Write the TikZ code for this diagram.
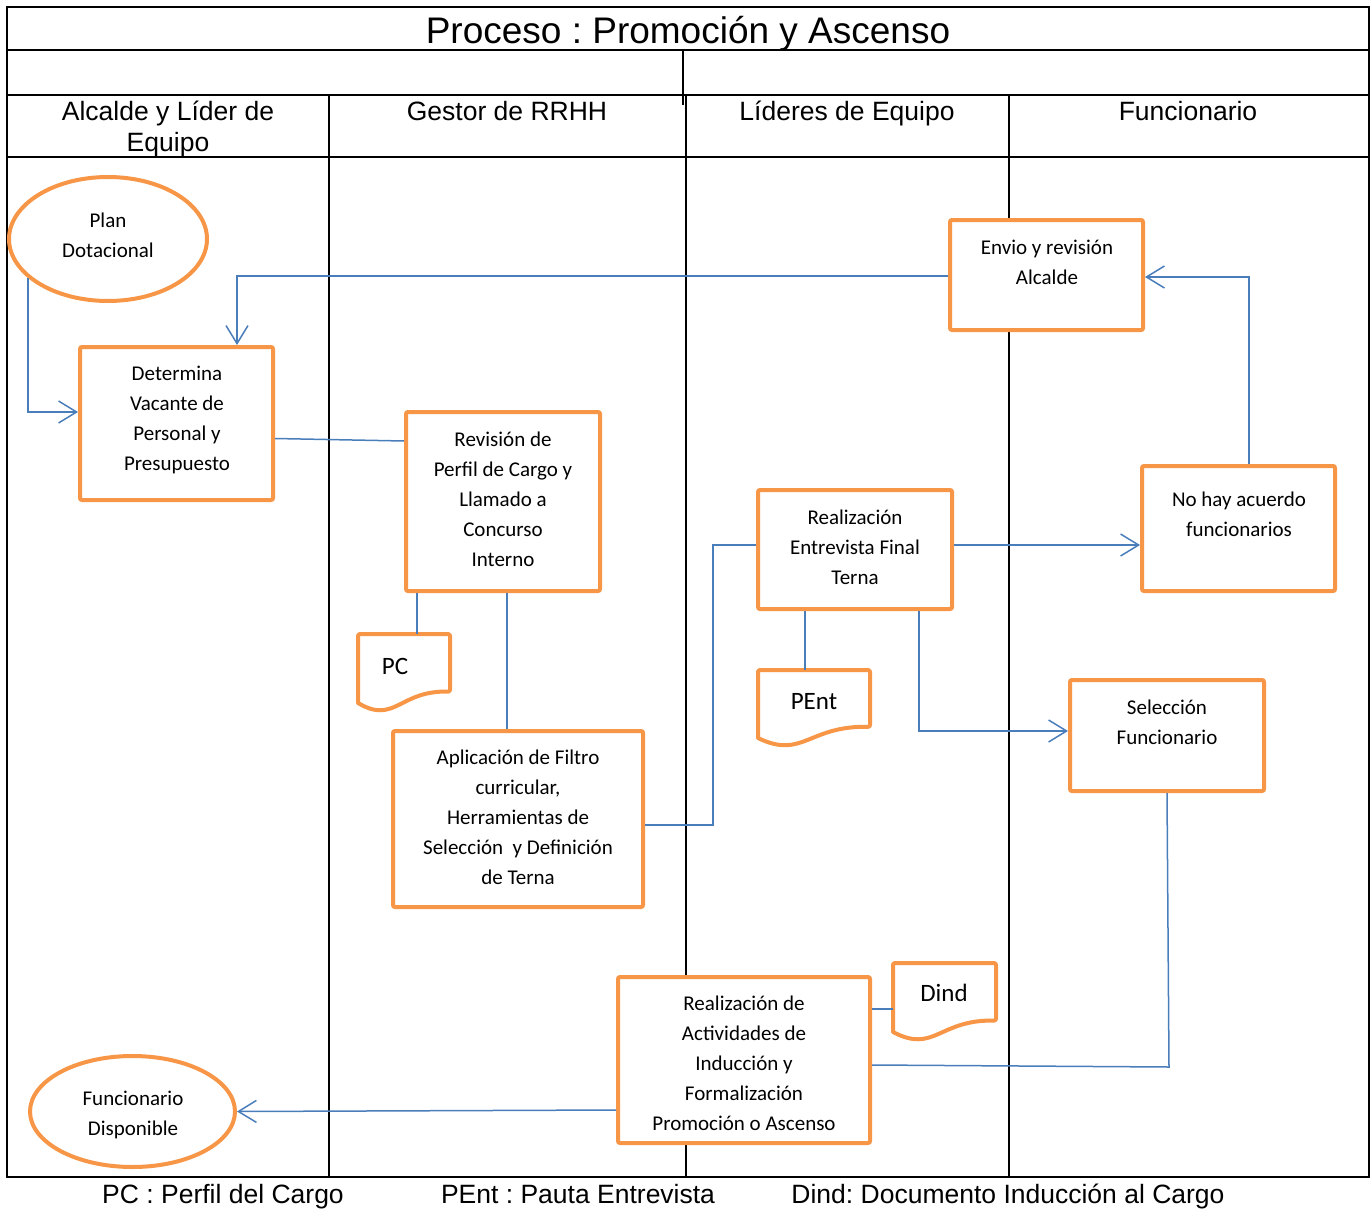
\documentclass[tikz,border=0pt]{standalone}
\usepackage{fontspec}
\setmainfont{Liberation Sans}
\newfontfamily\calfont{Carlito}
\usetikzlibrary{arrows.meta,shapes.geometric,calc}
\definecolor{org}{HTML}{F79646}
\definecolor{blu}{HTML}{4A7EBB}
\frenchspacing
\newcommand\docpath[4]{%
  \draw[draw=org,line width=4pt,line join=round,rounded corners=2pt,fill=white]
    (#1,{#2+0.945*(#4-#2)}) -- (#1,#2) -- (#3,#2) -- (#3,{#2+0.79*(#4-#2)})
    [sharp corners] .. controls ({#1+0.45*(#3-#1)},{#2+0.77*(#4-#2)}) and ({#1+0.4*(#3-#1)},{#2+1.245*(#4-#2)}) .. (#1,{#2+0.945*(#4-#2)}) -- cycle;}
\begin{document}
\begin{tikzpicture}[x=1pt,y=-1pt,
  frame/.style={draw=black,line width=2pt},
  box/.style={draw=org,line width=4pt,rounded corners=2pt,fill=white,inner sep=0pt},
  oval/.style={ellipse,draw=org,line width=4pt,fill=white,inner sep=0pt},
  docnode/.style={draw=none,inner sep=0pt},
  txt/.style={font=\calfont\fontsize{21}{30}\selectfont,align=center,inner sep=0pt,
    execute at begin node=\strut,execute at end node=\strut},
  doctxt/.style={font=\calfont\fontsize{25}{30}\selectfont,inner sep=0pt},
  head/.style={font=\fontsize{26.5}{31.5}\selectfont,inner sep=0pt,align=center},
  conn/.style={draw=blu,line width=1.5pt},
  arr/.style={conn,-{Straight Barb[length=18pt,width=22pt,line width=1.5pt]}}]
\useasboundingbox (0,0) rectangle (1370,1209);
% frame and lanes
\draw[frame] (7,7) rectangle (1369,1177);
\draw[frame] (7,50) -- (1369,50);
\draw[frame] (7,95) -- (1369,95);
\draw[frame] (7,157) -- (1369,157);
\draw[frame] (329,95) -- (329,1177);
\draw[frame] (686,95) -- (686,1177);
\draw[frame] (1009,95) -- (1009,1177);
\draw[frame] (683,50) -- (683,105);
\node[font=\fontsize{37}{40}\selectfont,inner sep=0pt,anchor=base] (title) at (688,44) {Proceso : Promoción y Ascenso};
\node[head,execute at begin node=\strut,execute at end node=\strut] (h1) at (168,131) {Alcalde y Líder de\\Equipo};
\node[head,anchor=base] (h2) at (507,121) {Gestor de RRHH};
\node[head,anchor=base] (h3) at (847,121) {Líderes de Equipo};
\node[head,anchor=base] (h4) at (1188,121) {Funcionario};
% footer
\node[head,anchor=base] (f1) at (223,1203) {PC : Perfil del Cargo};
\node[head,anchor=base] (f2) at (578,1203) {PEnt : Pauta Entrevista};
\node[head,anchor=base] (f3) at (1008,1203) {Dind: Documento Inducción al Cargo};
% shapes
\node[oval,minimum width=198pt,minimum height=124pt] (plan) at (108,239) {};
\node[txt] at (108,240) {Plan\\Dotacional};
\node[box,minimum width=193pt,minimum height=153pt] (det) at (176.5,423.5) {};
\node[txt] at (177,422.5) {Determina\\Vacante de\\Personal y\\Presupuesto};
\node[box,minimum width=194pt,minimum height=179pt] (rev) at (503,501.5) {};
\node[txt] at (503,503.5) {Revisión de\\Perfil de Cargo y\\Llamado a\\Concurso\\Interno};
\node[docnode,minimum width=92pt,minimum height=73pt] (pc) at (404,670.5) {};
\docpath{358}{634}{450}{707}
\node[doctxt] at (395,666) {PC};
\node[box,minimum width=250pt,minimum height=176pt] (apl) at (518,819) {};
\node[txt] at (518,822) {Aplicación de Filtro\\curricular,\\Herramientas de\\Selección\ \ y Definición\\de Terna};
\node[box,minimum width=194pt,minimum height=119pt] (ent) at (855,549.5) {};
\node[txt] at (855,552) {Realización\\Entrevista Final\\Terna};
\node[docnode,minimum width=112pt,minimum height=72pt] (pent) at (814,706) {};
\docpath{758}{670}{870}{742}
\node[doctxt] at (814,702) {PEnt};
\node[box,minimum width=193pt,minimum height=110pt] (envio) at (1046.5,275) {};
\node[txt] at (1047,267) {Envio y revisión\\Alcalde};
\node[box,minimum width=193pt,minimum height=125pt] (nohay) at (1238.5,528.5) {};
\node[txt] at (1239,519) {No hay acuerdo\\funcionarios};
\node[box,minimum width=194pt,minimum height=111pt] (sel) at (1167,735.5) {};
\node[txt] at (1167,727) {Selección\\Funcionario};
\node[box,minimum width=252pt,minimum height=166pt] (act) at (744,1060) {};
\node[txt] at (744,1068) {Realización de\\Actividades de\\Inducción y\\Formalización\\Promoción o Ascenso};
\node[docnode,minimum width=103pt,minimum height=73pt] (dind) at (944.5,999.5) {};
\docpath{893}{963}{996}{1036}
\node[doctxt] at (944,993) {Dind};
\node[oval,minimum width=205pt,minimum height=111pt] (fd) at (132.5,1111.5) {};
\node[txt] at (133,1118) {Funcionario\\Disponible};
% connectors
\draw[arr] (plan.206) |- ([yshift=11.5pt]det.west);
\draw[arr] ([yshift=-1pt]envio.west) -| ([xshift=60.5pt]det.north);
\draw[conn] ([yshift=-15pt]det.east) -- ([yshift=60.5pt]rev.west);
\draw[conn] ([xshift=-86pt]rev.south) -- ([xshift=13pt]pc.north);
\draw[conn] ([xshift=4pt]rev.south) -- ([xshift=-11pt]apl.north);
\draw[conn] ([yshift=-6pt]apl.east) -- ++(68,0) |- ([yshift=4.5pt]ent.west);
\draw[arr] ([yshift=4.5pt]ent.east) coordinate (t1) -- (t1 -| nohay.west);
\draw[arr] ([xshift=10.5pt]nohay.north) |- ([yshift=-2pt]envio.east);
\draw[conn] ([xshift=-50pt]ent.south) -- ([xshift=-9pt]pent.north);
\draw[arr] ([xshift=64pt]ent.south) |- ([yshift=4.5pt]sel.west);
\draw[conn] (sel.south) -- ++(2,274) -- ([yshift=-5pt]act.east);
\draw[conn] ([yshift=51pt]act.east) -- ([yshift=-9.5pt]dind.west);
\draw[arr] ([yshift=-50pt]act.west) -- (fd.east);
\end{tikzpicture}
\end{document}
